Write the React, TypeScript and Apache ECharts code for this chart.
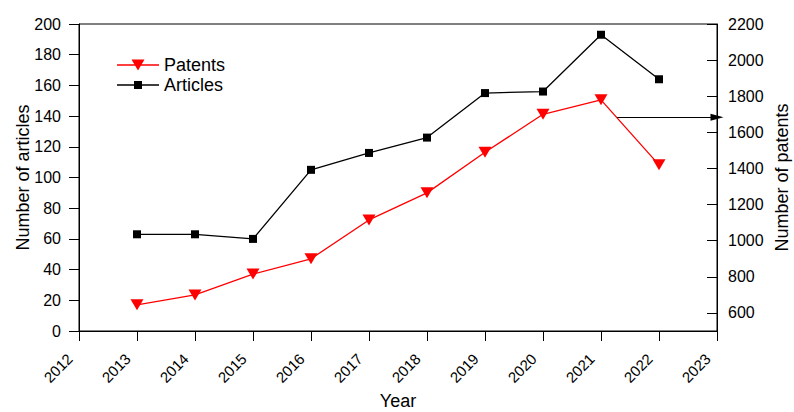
import React, { useEffect, useRef } from "react";
import * as echarts from "echarts";

const years = [2013, 2014, 2015, 2016, 2017, 2018, 2019, 2020, 2021, 2022];
const articles = [63, 63, 60, 105, 116, 126, 155, 156, 193, 164];
const patents = [645, 700, 815, 900, 1115, 1265, 1490, 1700, 1780, 1420];
const patentTicks = [600, 800, 1000, 1200, 1400, 1600, 1800, 2000, 2200];
const arrowStart = [2021.28, 1683];
const arrowEnd = [2023, 1683];

const FONT = "'Liberation Sans', Arial, Helvetica, sans-serif";

export default function App() {
  const ref = useRef<HTMLDivElement>(null);
  useEffect(() => {
    document.body.style.margin = "0";
    if (!ref.current) return;
    const chart = echarts.init(ref.current, undefined, { renderer: "svg" });
    const option: any = {
      animation: false,
      textStyle: { fontFamily: FONT, color: "#000" },
      grid: {
        left: 79,
        right: 77,
        top: 24,
        bottom: 81,
        containLabel: false,
        outerBoundsMode: "none",
        show: true,
        borderColor: "#000",
        borderWidth: 1,
        backgroundColor: "transparent",
      },
      legend: {
        orient: "vertical",
        left: 117,
        top: 56,
        padding: 0,
        itemGap: 2,
        itemWidth: 42,
        itemHeight: 11,
        symbolKeepAspect: true,
        textStyle: { fontSize: 18, fontFamily: FONT, color: "#000" },
        data: [
          { name: "Patents", icon: "path://M0 4.85H42V6.15H0Z M14.5 0H27.5L21 11Z" },
          { name: "Articles", icon: "path://M0 3.35H42V4.65H0Z M17 0H25V8H17Z" },
        ],
      },
      xAxis: {
        type: "value",
        min: 2012,
        max: 2023,
        interval: 1,
        name: "Year",
        nameLocation: "middle",
        nameGap: 63,
        nameMoveOverlap: false,
        nameTextStyle: { fontSize: 18, lineHeight: 14, fontFamily: FONT, color: "#000" },
        axisLine: { show: true, onZero: false, lineStyle: { color: "#000", width: 1 } },
        axisTick: { show: true, length: 10, inside: false, lineStyle: { color: "#000" } },
        axisLabel: {
          rotate: 45,
          fontSize: 15,
          margin: 16,
          padding: [0, 13, 0, 0],
          color: "#000",
          fontFamily: FONT,
          hideOverlap: false,
          formatter: (v: number) => String(v),
        },
        splitLine: { show: false },
      },
      yAxis: [
        {
          type: "value",
          position: "left",
          min: 0,
          max: 200,
          interval: 20,
          name: "Number of articles",
          nameLocation: "middle",
          nameGap: 47,
          nameMoveOverlap: false,
          nameTextStyle: { fontSize: 18, fontFamily: FONT, color: "#000" },
          axisLine: { show: true, lineStyle: { color: "#000", width: 1 } },
          axisTick: { show: true, length: 10, inside: false, lineStyle: { color: "#000" } },
          axisLabel: { fontSize: 16, margin: 18, color: "#000", fontFamily: FONT },
          splitLine: { show: false },
        },
        {
          type: "value",
          position: "right",
          min: 500,
          max: 2200,
          name: "Number of patents",
          nameLocation: "middle",
          nameGap: 57,
          nameMoveOverlap: false,
          nameTextStyle: { fontSize: 18, lineHeight: 16, fontFamily: FONT, color: "#000" },
          axisLine: { show: true, lineStyle: { color: "#000", width: 1 } },
          axisTick: {
            show: true,
            length: 10,
            inside: true,
            customValues: patentTicks,
            lineStyle: { color: "#000" },
          },
          axisLabel: {
            fontSize: 16,
            margin: 11,
            color: "#000",
            fontFamily: FONT,
            customValues: patentTicks,
            formatter: (v: number) => String(v),
          },
          splitLine: { show: false },
        },
      ],
      series: [
        {
          name: "Patents",
          type: "line",
          yAxisIndex: 1,
          data: years.map((y, i) => [y, patents[i]]),
          symbol: "triangle",
          symbolSize: [13, 11],
          symbolRotate: 180,
          color: "#ff0000",
          itemStyle: { color: "#ff0000" },
          lineStyle: { color: "#ff0000", width: 1.3 },
          z: 3,
          markLine: {
            silent: true,
            symbol: ["none", "triangle"],
            symbolSize: [7, 13],
            lineStyle: { color: "#000", width: 1, type: "solid" },
            itemStyle: { color: "#000" },
            label: { show: false },
            emphasis: { disabled: true },
            data: [[{ coord: arrowStart }, { coord: arrowEnd }]],
          },
        },
        {
          name: "Articles",
          type: "line",
          yAxisIndex: 0,
          data: years.map((y, i) => [y, articles[i]]),
          symbol: "rect",
          symbolSize: 8,
          color: "#000",
          itemStyle: { color: "#000" },
          lineStyle: { color: "#000", width: 1.3 },
          z: 2,
        },
      ],
    };
    chart.setOption(option);
    return () => chart.dispose();
  }, []);
  return <div ref={ref} style={{ width: 794, height: 412 }} />;
}
